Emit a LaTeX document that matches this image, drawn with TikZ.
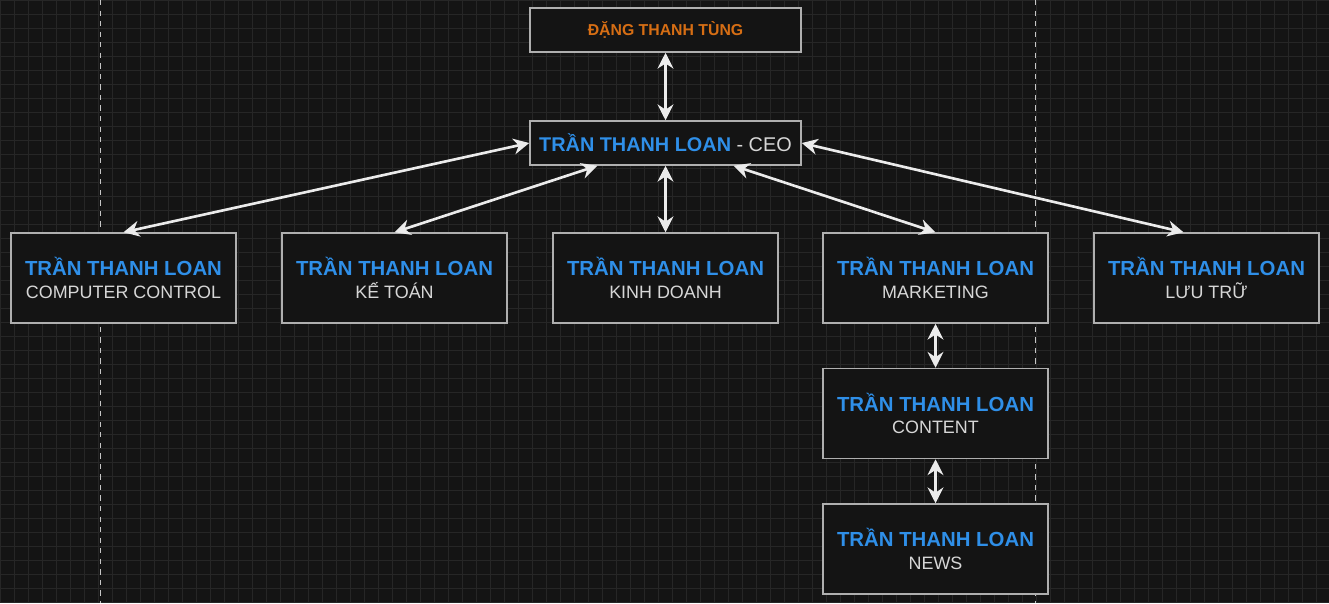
\documentclass[tikz,border=0pt]{standalone}
\usepackage{fontspec}
\setmainfont{Liberation Sans}
\usetikzlibrary{arrows.meta,positioning,calc}
\definecolor{bgdark}{RGB}{20,20,20}
\definecolor{gridgray}{RGB}{38,38,38}
\definecolor{namebl}{RGB}{47,143,232}
\definecolor{bossor}{RGB}{214,110,20}
\definecolor{edgegray}{RGB}{175,175,175}
\definecolor{subgray}{RGB}{215,215,215}

\begin{document}
\begin{tikzpicture}[x=0.02cm,y=-0.02cm,
    box/.style={draw=edgegray,line width=0.85pt,fill=bgdark,minimum width=225*0.02cm,minimum height=90*0.02cm,align=center,inner sep=0pt},
    link/.style={draw=white!92!black,line width=1.5pt,{Stealth[length=9pt,width=9pt]}-{Stealth[length=9pt,width=9pt]}}]
    % background and grid
    \fill[bgdark] (0,0) rectangle (1329,603);
    \useasboundingbox (0,0) rectangle (1329,603);
    \foreach \gx in {0,14,...,1329} \draw[gridgray,line width=0.3pt] (\gx,0) -- (\gx,603);
    \foreach \gy in {0,14,...,603} \draw[gridgray,line width=0.3pt] (0,\gy) -- (1329,\gy);
    \draw[gray!45,dashed,line width=0.3pt] (100,0) -- (100,603);
    \draw[gray!45,dashed,line width=0.3pt] (1035,0) -- (1035,603);

    % boxes
    \node[box,minimum width=271*0.02cm,minimum height=44*0.02cm,font=\fontsize{9}{11}\bfseries,text=bossor] (boss) at (665.5,30) {ĐẶNG THANH TÙNG};
    \node[box,minimum width=271*0.02cm,minimum height=44*0.02cm,font=\fontsize{11.3}{13}\selectfont] (ceo) at (665.5,143) {\textcolor{namebl}{\bfseries TRẦN THANH LOAN} \textcolor{subgray}{- CEO}};
    \foreach \nm/\cx/\cy/\role in {cc/123.5/278/COMPUTER CONTROL, kt/394.5/278/KẾ TOÁN, kd/665.5/278/KINH DOANH, mk/935.5/278/MARKETING, lt/1206.5/278/LƯU TRỮ, ct/935.5/413.5/CONTENT, nw/935.5/549/NEWS}
        \node[box] (\nm) at (\cx,\cy) {{\fontsize{11.6}{14}\bfseries\color{namebl}TRẦN THANH LOAN}\\[1pt]{\fontsize{10.2}{12}\selectfont\color{subgray}\role}};

    % connectors
    \draw[link] (boss) -- (ceo);
    \draw[link] (ceo.west) -- (cc.north);
    \draw[link] ($(ceo.south west)!0.25!(ceo.south east)$) -- (kt.north);
    \draw[link] (ceo) -- (kd);
    \draw[link] ($(ceo.south west)!0.75!(ceo.south east)$) -- (mk.north);
    \draw[link] (ceo.east) -- ($(lt.north)+(-23,0)$);
    \draw[link] (mk) -- (ct);
    \draw[link] (ct) -- (nw);
\end{tikzpicture}
\end{document}
